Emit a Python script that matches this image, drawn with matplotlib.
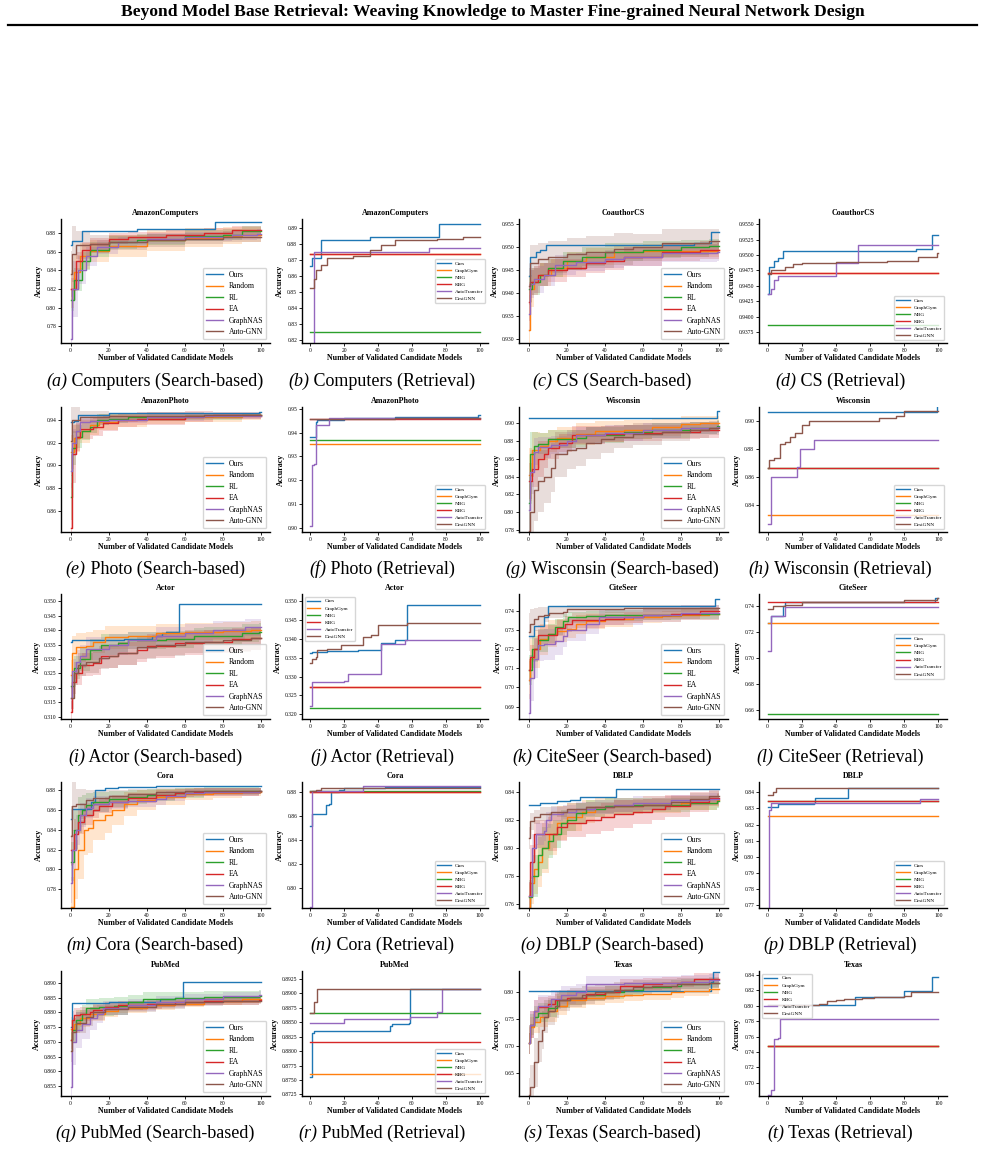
import matplotlib
matplotlib.use('Agg')
import matplotlib.pyplot as plt
from matplotlib.ticker import MultipleLocator
from matplotlib.lines import Line2D

plt.rcParams['font.family'] = 'Liberation Serif'
plt.rcParams['axes.formatter.useoffset'] = False

N = 100
COLORS = ['#1f77b4', '#ff7f0e', '#2ca02c', '#d62728', '#9467bd', '#8c564b']
SEARCH_NAMES = ['Ours', 'Random', 'RL', 'EA', 'GraphNAS', 'Auto-GNN']
RETR_NAMES = ['Ours', 'GraphGym', 'NBG', 'KBG', 'AutoTransfer', 'DesiGNN']

# search-based series: (candidate idx, mean acc, band half width)
# retrieval series: (candidate idx, acc)

# (a) / (b) AmazonComputers
comp_s_ours = [(0,.867,0),(1,.871,0),(6,.8825,0),(35,.884,0),(76,.892,0)]
comp_s_rand = [(0,.820,.02),(2,.838,.018),(5,.855,.014),(10,.861,.012),(20,.866,.012),(40,.872,.011),(60,.875,.01),(80,.877,.009),(90,.878,.008)]
comp_s_rl = [(0,.808,.012),(2,.830,.012),(6,.850,.01),(10,.862,.008),(20,.870,.007),(35,.873,.006),(60,.877,.006),(80,.878,.006),(90,.8825,.005)]
comp_s_ea = [(0,.820,.012),(3,.850,.01),(6,.862,.008),(10,.868,.007),(20,.874,.006),(30,.876,.005),(50,.878,.005),(70,.880,.005),(85,.883,.005)]
comp_s_gnas = [(0,.766,.03),(1,.820,.03),(4,.840,.015),(8,.855,.01),(14,.865,.008),(25,.870,.006),(40,.874,.006),(60,.876,.005),(85,.878,.005),(98,.879,.005)]
comp_s_agnn = [(0,.836,.025),(1,.857,.03),(3,.867,.015),(10,.868,.01),(20,.870,.008),(40,.872,.007),(60,.874,.006),(80,.876,.006)]
comp_r_ours = [(0,.8665),(1,.871),(6,.8825),(35,.884),(76,.892)]
comp_r_gg = [(0,.8737)]
comp_r_nbg = [(0,.8255)]
comp_r_kbg = [(0,.8737)]
comp_r_at = [(0,.8165),(2,.875),(70,.8772)]
comp_r_desi = [(0,.8525),(2,.858),(3,.864),(6,.867),(10,.871),(25,.8725),(35,.876),(42,.879),(50,.8825),(75,.8828),(90,.884)]

# (c) / (d) CoauthorCS
cs_s_ours = [(0,.9437,0),(1,.948,0),(4,.949,0),(6,.9495,0),(9,.9506,0),(87,.951,0),(96,.9533,0)]
cs_s_rand = [(0,.932,.006),(1,.941,.004),(3,.943,.003),(6,.944,.0025),(12,.9455,.002),(20,.947,.002),(30,.948,.0018),(45,.949,.0016),(60,.9493,.0015),(99,.9495,.0015)]
cs_s_rl = [(0,.941,.003),(2,.9425,.003),(6,.944,.0025),(10,.9455,.002),(18,.947,.002),(28,.948,.002),(40,.949,.002),(60,.9495,.0018),(80,.950,.0017),(95,.9502,.0017)]
cs_s_ea = [(0,.938,.004),(1,.9425,.003),(5,.944,.0025),(10,.945,.0025),(20,.9455,.002),(30,.9465,.002),(40,.947,.002),(50,.948,.002),(70,.949,.002),(90,.9495,.002)]
cs_s_gnas = [(0,.9355,.004),(1,.942,.003),(3,.943,.003),(8,.944,.0025),(14,.9462,.0022),(25,.9468,.002),(40,.9475,.002),(50,.948,.002),(70,.9488,.002),(99,.949,.002)]
cs_s_agnn = [(0,.9415,.004),(1,.9465,.004),(5,.9475,.0035),(10,.948,.0035),(20,.9485,.0035),(30,.949,.0035),(45,.9497,.0035),(55,.950,.003),(70,.951,.003),(95,.9515,.0025)]
cs_r_ours = [(0,.9437),(1,.948),(4,.949),(6,.9495),(9,.9506),(87,.951),(96,.9533)]
cs_r_gg = [(0,.9471)]
cs_r_nbg = [(0,.93865)]
cs_r_kbg = [(0,.9471)]
cs_r_at = [(0,.9437),(2,.9445),(4,.946),(6,.9466),(40,.9487),(53,.9516)]
cs_r_desi = [(0,.9470),(2,.9475),(10,.948),(15,.9485),(20,.9487),(40,.9488),(70,.949),(88,.9497),(99,.9503)]

# (e) / (f) AmazonPhoto
photo_s_ours = [(0,.938,0),(2,.9385,0),(4,.9445,0),(20,.9455,0),(99,.947,0)]
photo_s_rand = [(0,.912,.015),(2,.924,.012),(5,.930,.01),(10,.935,.008),(15,.938,.007),(25,.940,.006),(40,.941,.005),(60,.942,.004),(90,.943,.003)]
photo_s_rl = [(0,.872,.02),(1,.915,.015),(3,.925,.01),(6,.930,.008),(10,.934,.006),(14,.940,.005),(20,.941,.004),(30,.942,.003),(60,.943,.003),(90,.944,.002)]
photo_s_ea = [(0,.845,.04),(1,.910,.025),(3,.925,.012),(5,.932,.009),(12,.934,.008),(17,.937,.007),(25,.940,.006),(35,.941,.006),(60,.943,.005),(75,.944,.003)]
photo_s_gnas = [(0,.895,.015),(1,.920,.012),(3,.930,.008),(5,.938,.005),(10,.939,.004),(20,.940,.003),(40,.942,.003),(70,.943,.002)]
photo_s_agnn = [(0,.921,.03),(1,.940,.012),(5,.9425,.005),(20,.943,.003),(40,.9435,.003),(70,.944,.002),(99,.9445,.002)]
photo_r_ours = [(0,.9383),(3,.9445),(4,.9452),(20,.946),(50,.9465),(99,.9475)]
photo_r_gg = [(0,.9353)]
photo_r_nbg = [(0,.9370)]
photo_r_kbg = [(0,.9455)]
photo_r_at = [(0,.901),(1,.9265),(2,.927),(3,.943),(10,.943),(11,.946),(40,.9462)]
photo_r_desi = [(0,.9455),(5,.9458),(50,.946)]

# (g) / (h) Wisconsin
wisc_s_ours = [(0,.9065,0),(99,.9135,0)]
wisc_s_rand = [(0,.842,.03),(2,.870,.02),(6,.874,.015),(10,.880,.012),(15,.884,.012),(25,.888,.012),(35,.891,.012),(50,.893,.011),(65,.896,.01),(80,.899,.009),(90,.900,.008)]
wisc_s_rl = [(0,.810,.03),(1,.865,.025),(3,.875,.015),(5,.877,.012),(10,.882,.01),(25,.883,.01),(30,.887,.009),(50,.890,.008),(65,.892,.008),(85,.895,.007),(99,.897,.007)]
wisc_s_ea = [(0,.835,.02),(2,.848,.02),(5,.860,.02),(8,.865,.015),(10,.872,.012),(16,.878,.01),(23,.887,.01),(40,.888,.009),(50,.889,.009),(70,.890,.008),(90,.892,.008)]
wisc_s_gnas = [(0,.802,.03),(1,.845,.025),(3,.868,.015),(5,.873,.012),(12,.876,.01),(20,.880,.01),(25,.887,.009),(40,.889,.009),(60,.892,.008),(80,.895,.007),(99,.896,.007)]
wisc_s_agnn = [(0,.778,.03),(1,.800,.035),(3,.825,.035),(5,.835,.035),(8,.840,.03),(12,.850,.028),(14,.865,.025),(20,.870,.022),(25,.872,.02),(30,.878,.018),(38,.882,.015),(45,.885,.013),(55,.888,.012),(70,.890,.01),(85,.893,.009),(95,.895,.008)]
wisc_r_ours = [(0,.9065),(99,.9135)]
wisc_r_gg = [(0,.8333)]
wisc_r_nbg = [(0,.8667)]
wisc_r_kbg = [(0,.8667)]
wisc_r_at = [(0,.8267),(2,.860),(17,.867),(19,.880),(27,.8867)]
wisc_r_desi = [(0,.8667),(1,.872),(4,.8733),(7,.8833),(10,.885),(13,.8883),(16,.8917),(20,.8967),(24,.900),(65,.9017),(75,.9033),(80,.9067)]

# (i) / (j) Actor
actor_s_ours = [(0,.336,0),(1,.3365,0),(28,.337,0),(43,.338,0),(48,.339,0),(50,.3395,0),(57,.349,0)]
actor_s_rand = [(0,.3245,.005),(1,.332,.006),(3,.334,.005),(8,.3345,.005),(12,.336,.004),(18,.3375,.004),(30,.338,.0035),(45,.339,.003),(60,.3395,.003),(80,.3398,.003),(95,.340,.003)]
actor_s_rl = [(0,.3205,.004),(2,.327,.004),(5,.330,.004),(10,.333,.004),(16,.335,.0035),(25,.3355,.003),(30,.3365,.003),(50,.3368,.003),(65,.3378,.003),(70,.338,.003),(90,.339,.003),(99,.3395,.003)]
actor_s_ea = [(0,.3115,.004),(1,.322,.004),(3,.325,.004),(6,.328,.004),(12,.3285,.004),(16,.331,.004),(25,.332,.004),(35,.333,.004),(40,.3345,.004),(55,.3355,.004),(70,.336,.004),(85,.3368,.004),(95,.3372,.004)]
actor_s_gnas = [(0,.3165,.004),(1,.326,.004),(3,.329,.004),(5,.331,.004),(8,.3335,.004),(20,.335,.0035),(30,.3365,.003),(45,.338,.003),(60,.339,.003),(75,.340,.003),(92,.341,.003)]
actor_s_agnn = [(0,.3165,.004),(2,.325,.004),(4,.328,.004),(8,.329,.004),(15,.3305,.004),(20,.331,.004),(25,.332,.004),(35,.334,.004),(45,.335,.004),(60,.336,.004),(80,.3365,.004),(95,.3372,.004)]
actor_r_ours = [(0,.3363),(1,.3365),(10,.3367),(28,.3371),(42,.339),(50,.3398),(57,.349)]
actor_r_gg = [(0,.3272)]
actor_r_nbg = [(0,.3216)]
actor_r_kbg = [(0,.3272)]
actor_r_at = [(0,.3222),(1,.3285),(20,.3287),(22,.3307),(42,.3387),(56,.3397)]
actor_r_desi = [(0,.3337),(1,.3347),(3,.3352),(4,.337),(10,.3373),(18,.3383),(25,.3385),(31,.3405),(36,.341),(40,.3437),(50,.3438),(57,.3443)]

# (k) / (l) CiteSeer
cite_s_ours = [(0,.7267,0),(3,.732,0),(8,.7365,0),(10,.7425,0),(98,.746,0)]
cite_s_rand = [(0,.704,.01),(1,.715,.01),(3,.720,.01),(6,.725,.008),(10,.728,.007),(15,.7295,.006),(20,.7305,.005),(25,.733,.005),(30,.7345,.004),(40,.7355,.004),(55,.7365,.003),(70,.737,.003),(80,.738,.003),(95,.7383,.003)]
cite_s_rl = [(0,.709,.008),(2,.720,.007),(5,.7245,.006),(10,.728,.005),(14,.7315,.004),(18,.7345,.004),(21,.7365,.003),(30,.737,.003),(40,.7375,.003),(60,.738,.003),(80,.7385,.003)]
cite_s_ea = [(0,.709,.006),(1,.716,.006),(3,.720,.006),(5,.7275,.005),(12,.7275,.005),(15,.731,.004),(19,.733,.004),(23,.735,.004),(40,.7355,.003),(50,.7365,.003),(60,.738,.003),(75,.7385,.003),(90,.740,.002)]
cite_s_gnas = [(0,.6865,.01),(1,.705,.012),(3,.715,.01),(5,.722,.008),(8,.7225,.008),(14,.724,.007),(18,.727,.006),(20,.730,.006),(30,.733,.005),(37,.7365,.004),(60,.738,.004),(80,.739,.004)]
cite_s_agnn = [(0,.729,.01),(1,.733,.008),(3,.7355,.006),(5,.737,.005),(8,.738,.004),(11,.739,.003),(18,.7395,.003),(20,.741,.002),(50,.7412,.002)]
cite_r_ours = [(0,.7267),(2,.7325),(9,.7395),(10,.7425),(98,.7457)]
cite_r_gg = [(0,.7267)]
cite_r_nbg = [(0,.657)]
cite_r_kbg = [(0,.7425)]
cite_r_at = [(0,.7057),(2,.7325),(10,.739)]
cite_r_desi = [(0,.7377),(3,.7395),(10,.7402),(20,.7425),(60,.7432),(80,.7445),(99,.7457)]

# (m) / (n) Cora
cora_s_ours = [(0,.851,0),(1,.8615,0),(11,.868,0),(13,.880,0),(18,.882,0),(25,.883,0),(45,.8845,0)]
cora_s_rand = [(0,.762,.03),(2,.800,.03),(4,.820,.03),(7,.840,.025),(9,.842,.025),(12,.850,.02),(18,.855,.018),(22,.860,.015),(28,.866,.012),(35,.870,.01),(45,.873,.008),(60,.876,.006),(75,.877,.005),(90,.878,.004)]
cora_s_rl = [(0,.808,.02),(2,.840,.02),(4,.855,.018),(6,.860,.015),(8,.865,.012),(12,.868,.01),(20,.871,.008),(30,.873,.007),(40,.875,.006),(55,.877,.005),(70,.879,.004),(99,.8795,.003)]
cora_s_ea = [(0,.820,.015),(2,.836,.015),(4,.848,.012),(7,.855,.01),(12,.860,.008),(15,.864,.007),(22,.868,.006),(30,.872,.005),(45,.875,.005),(55,.877,.004),(65,.878,.004),(99,.879,.003)]
cora_s_gnas = [(0,.786,.02),(1,.820,.02),(3,.840,.015),(5,.855,.012),(8,.862,.01),(12,.866,.008),(20,.868,.007),(30,.869,.006),(45,.871,.006),(50,.874,.005),(60,.877,.004),(70,.878,.004),(99,.8795,.003)]
cora_s_agnn = [(0,.834,.03),(1,.864,.025),(3,.866,.015),(8,.870,.01),(12,.872,.008),(20,.874,.006),(30,.876,.005),(45,.878,.004),(60,.879,.003),(99,.8795,.003)]
cora_r_ours = [(0,.8515),(1,.8615),(9,.869),(11,.870),(12,.880),(17,.882),(20,.883),(30,.8835),(44,.8845)]
cora_r_gg = [(0,.8797)]
cora_r_nbg = [(0,.8805)]
cora_r_kbg = [(0,.8797)]
cora_r_at = [(0,.7845),(1,.8805),(31,.8852)]
cora_r_desi = [(0,.8805),(3,.882),(6,.8832),(10,.8835)]

# (o) / (p) DBLP
dblp_s_ours = [(0,.831,0),(6,.8325,0),(15,.8335,0),(22,.834,0),(27,.8365,0),(46,.8425,0)]
dblp_s_rand = [(0,.757,.01),(1,.775,.015),(3,.785,.018),(5,.790,.018),(7,.800,.018),(11,.810,.015),(15,.818,.012),(20,.822,.01),(28,.826,.008),(35,.829,.007),(45,.830,.006),(60,.831,.006),(80,.832,.005),(99,.834,.005)]
dblp_s_rl = [(0,.765,.012),(2,.780,.015),(5,.795,.015),(7,.800,.015),(10,.805,.012),(13,.810,.01),(17,.818,.009),(20,.820,.008),(25,.825,.007),(30,.828,.006),(40,.830,.006),(55,.831,.005),(85,.832,.005),(99,.8335,.005)]
dblp_s_ea = [(0,.766,.01),(1,.790,.012),(3,.810,.01),(10,.810,.012),(15,.815,.01),(20,.818,.01),(30,.820,.01),(38,.822,.01),(45,.824,.01),(55,.826,.009),(65,.828,.008),(72,.830,.008),(85,.833,.007),(95,.836,.006)]
dblp_s_gnas = [(0,.766,.01),(2,.800,.01),(4,.810,.008),(8,.812,.007),(9,.820,.006),(12,.824,.005),(18,.826,.005),(25,.828,.005),(35,.829,.005),(45,.831,.005),(55,.832,.005),(75,.834,.004),(95,.835,.004)]
dblp_s_agnn = [(0,.807,.008),(1,.819,.006),(3,.822,.005),(6,.824,.005),(12,.826,.004),(20,.828,.004),(30,.829,.004),(45,.830,.004),(60,.831,.004),(75,.833,.004),(85,.835,.004),(95,.837,.004)]
dblp_r_ours = [(0,.8308),(5,.8312),(6,.8325),(16,.833),(27,.8335),(28,.8367),(47,.8428)]
dblp_r_gg = [(0,.8253)]
dblp_r_nbg = [(0,.8345)]
dblp_r_kbg = [(0,.8345)]
dblp_r_at = [(0,.7645),(1,.829),(2,.8332),(89,.8357)]
dblp_r_desi = [(0,.8385),(3,.8405),(5,.8428)]

# (q) / (r) PubMed
pub_s_ours = [(0,.8752,0),(1,.8832,0),(20,.8835,0),(35,.8837,0),(47,.8845,0),(55,.8848,0),(59,.8905,0)]
pub_s_rand = [(0,.8745,.004),(2,.876,.003),(5,.878,.003),(10,.8795,.0025),(18,.8805,.002),(25,.8815,.0018),(40,.8825,.0015),(55,.883,.0013),(70,.8838,.0012),(90,.8845,.0012)]
pub_s_rl = [(0,.8705,.004),(1,.874,.004),(3,.8775,.0035),(6,.8795,.003),(8,.8815,.003),(15,.8818,.003),(23,.8822,.003),(30,.8835,.0025),(38,.8845,.0025),(55,.8848,.0022),(70,.8852,.002),(99,.8856,.002)]
pub_s_ea = [(0,.8705,.003),(1,.8775,.003),(2,.879,.0025),(5,.8795,.0025),(10,.880,.002),(12,.881,.002),(18,.8818,.0018),(25,.8825,.0015),(40,.8828,.0015),(48,.883,.0013),(55,.8835,.0012),(70,.8838,.0012),(99,.8842,.001)]
pub_s_gnas = [(0,.8545,.012),(1,.870,.008),(3,.874,.006),(6,.876,.005),(10,.878,.004),(14,.8795,.003),(17,.8815,.0025),(30,.8825,.002),(45,.8835,.002),(60,.8845,.0018),(80,.8855,.0015),(99,.8858,.0015)]
pub_s_agnn = [(0,.867,.004),(1,.8735,.004),(3,.8765,.0035),(8,.8785,.003),(12,.880,.0025),(18,.8812,.002),(30,.882,.0018),(45,.8828,.0015),(60,.8835,.0013),(80,.8838,.0012),(99,.884,.0012)]
pub_r_ours = [(0,.8755),(1,.8832),(2,.8835),(47,.8843),(48,.8847),(58,.8848),(59,.8908)]
pub_r_gg = [(0,.8761)]
pub_r_nbg = [(0,.8866)]
pub_r_kbg = [(0,.8815)]
pub_r_at = [(0,.8848),(20,.8855),(59,.886),(75,.8868),(78,.8908)]
pub_r_desi = [(0,.8866),(2,.8885),(4,.8908)]

# (s) / (t) Texas
texas_s_ours = [(0,.8015,0),(51,.803,0),(96,.820,0),(97,.838,0)]
texas_s_rand = [(0,.705,.02),(1,.735,.02),(3,.745,.02),(6,.755,.02),(10,.765,.02),(15,.775,.018),(20,.785,.015),(30,.790,.014),(40,.793,.013),(50,.795,.012),(60,.797,.012),(75,.800,.011),(82,.803,.01),(95,.806,.01)]
texas_s_rl = [(0,.705,.02),(1,.740,.02),(3,.755,.02),(5,.762,.018),(10,.770,.016),(15,.785,.015),(22,.790,.013),(30,.795,.012),(40,.800,.012),(50,.805,.011),(60,.810,.01),(75,.812,.01),(80,.815,.009),(95,.817,.009)]
texas_s_ea = [(0,.705,.02),(1,.740,.025),(3,.765,.02),(5,.773,.018),(10,.778,.016),(14,.785,.015),(20,.790,.014),(30,.797,.013),(40,.800,.012),(48,.812,.012),(60,.815,.011),(70,.818,.011),(80,.820,.01),(87,.825,.01)]
texas_s_gnas = [(0,.705,.02),(1,.740,.025),(3,.765,.02),(5,.775,.02),(12,.787,.018),(17,.795,.017),(25,.800,.016),(30,.815,.015),(50,.817,.014),(80,.820,.013),(95,.822,.012)]
texas_s_agnn = [(0,.610,.03),(1,.625,.04),(3,.670,.045),(5,.710,.04),(7,.730,.035),(8,.755,.03),(10,.765,.025),(14,.775,.022),(16,.785,.02),(22,.790,.018),(28,.795,.016),(35,.800,.015),(45,.805,.014),(55,.810,.013),(65,.812,.012),(78,.815,.011),(95,.818,.01)]
texas_r_ours = [(0,.8015),(51,.811),(80,.8195),(96,.8375)]
texas_r_gg = [(0,.7475)]
texas_r_nbg = [(0,.7475)]
texas_r_kbg = [(0,.7475)]
texas_r_at = [(0,.6845),(2,.690),(4,.7565),(6,.7575),(7,.7835)]
texas_r_desi = [(0,.8015),(30,.803),(35,.806),(40,.807),(45,.8085),(55,.810),(62,.811),(72,.812),(80,.813),(84,.8175)]

# title, caption letter, caption text, kind, series, ylim, tick step, legend loc
panels = [
    ('AmazonComputers', 'a', 'Computers (Search-based)', 's',
     [comp_s_ours, comp_s_rand, comp_s_rl, comp_s_ea, comp_s_gnas, comp_s_agnn], (0.762, 0.895), 0.02, 'lower right'),
    ('AmazonComputers', 'b', 'Computers (Retrieval)', 'r',
     [comp_r_ours, comp_r_gg, comp_r_nbg, comp_r_kbg, comp_r_at, comp_r_desi], (0.8184, 0.8954), 0.01, 'center right'),
    ('CoauthorCS', 'c', 'CS (Search-based)', 's',
     [cs_s_ours, cs_s_rand, cs_s_rl, cs_s_ea, cs_s_gnas, cs_s_agnn], (0.9291, 0.9562), 0.005, 'lower right'),
    ('CoauthorCS', 'd', 'CS (Retrieval)', 'r',
     [cs_r_ours, cs_r_gg, cs_r_nbg, cs_r_kbg, cs_r_at, cs_r_desi], (0.93575, 0.95583), 0.0025, 'lower right'),
    ('AmazonPhoto', 'e', 'Photo (Search-based)', 's',
     [photo_s_ours, photo_s_rand, photo_s_rl, photo_s_ea, photo_s_gnas, photo_s_agnn], (0.8418, 0.9511), 0.02, 'lower right'),
    ('AmazonPhoto', 'f', 'Photo (Retrieval)', 'r',
     [photo_r_ours, photo_r_gg, photo_r_nbg, photo_r_kbg, photo_r_at, photo_r_desi], (0.8984, 0.9507), 0.01, 'lower right'),
    ('Wisconsin', 'g', 'Wisconsin (Search-based)', 's',
     [wisc_s_ours, wisc_s_rand, wisc_s_rl, wisc_s_ea, wisc_s_gnas, wisc_s_agnn], (0.7774, 0.9185), 0.02, 'lower right'),
    ('Wisconsin', 'h', 'Wisconsin (Retrieval)', 'r',
     [wisc_r_ours, wisc_r_gg, wisc_r_nbg, wisc_r_kbg, wisc_r_at, wisc_r_desi], (0.8212, 0.9098), 0.02, 'lower right'),
    ('Actor', 'i', 'Actor (Search-based)', 's',
     [actor_s_ours, actor_s_rand, actor_s_rl, actor_s_ea, actor_s_gnas, actor_s_agnn], (0.3092, 0.3525), 0.005, 'lower right'),
    ('Actor', 'j', 'Actor (Retrieval)', 'r',
     [actor_r_ours, actor_r_gg, actor_r_nbg, actor_r_kbg, actor_r_at, actor_r_desi], (0.31875, 0.3519), 0.005, 'upper left'),
    ('CiteSeer', 'k', 'CiteSeer (Search-based)', 's',
     [cite_s_ours, cite_s_rand, cite_s_rl, cite_s_ea, cite_s_gnas, cite_s_agnn], (0.6835, 0.7487), 0.01, 'lower right'),
    ('CiteSeer', 'l', 'CiteSeer (Retrieval)', 'r',
     [cite_r_ours, cite_r_gg, cite_r_nbg, cite_r_kbg, cite_r_at, cite_r_desi], (0.6533, 0.7490), 0.02, 'center right'),
    ('Cora', 'm', 'Cora (Search-based)', 's',
     [cora_s_ours, cora_s_rand, cora_s_rl, cora_s_ea, cora_s_gnas, cora_s_agnn], (0.761, 0.8885), 0.02, 'lower right'),
    ('Cora', 'n', 'Cora (Retrieval)', 'r',
     [cora_r_ours, cora_r_gg, cora_r_nbg, cora_r_kbg, cora_r_at, cora_r_desi], (0.7833, 0.8884), 0.02, 'lower right'),
    ('DBLP', 'o', 'DBLP (Search-based)', 's',
     [dblp_s_ours, dblp_s_rand, dblp_s_rl, dblp_s_ea, dblp_s_gnas, dblp_s_agnn], (0.7571, 0.8472), 0.02, 'lower right'),
    ('DBLP', 'p', 'DBLP (Retrieval)', 'r',
     [dblp_r_ours, dblp_r_gg, dblp_r_nbg, dblp_r_kbg, dblp_r_at, dblp_r_desi], (0.768, 0.8465), 0.01, 'lower right'),
    ('PubMed', 'q', 'PubMed (Search-based)', 's',
     [pub_s_ours, pub_s_rand, pub_s_rl, pub_s_ea, pub_s_gnas, pub_s_agnn], (0.8516, 0.8941), 0.005, 'lower right'),
    ('PubMed', 'r', 'PubMed (Retrieval)', 'r',
     [pub_r_ours, pub_r_gg, pub_r_nbg, pub_r_kbg, pub_r_at, pub_r_desi], (0.87221, 0.8939), 0.0025, 'lower right'),
    ('Texas', 's', 'Texas (Search-based)', 's',
     [texas_s_ours, texas_s_rand, texas_s_rl, texas_s_ea, texas_s_gnas, texas_s_agnn], (0.6074, 0.8395), 0.05, 'lower right'),
    ('Texas', 't', 'Texas (Retrieval)', 'r',
     [texas_r_ours, texas_r_gg, texas_r_nbg, texas_r_kbg, texas_r_at, texas_r_desi], (0.6827, 0.8453), 0.02, 'upper left'),
]

W, H = 985, 1149
cols = [(61, 270), (302, 488), (519, 728), (759, 947)]
rows = [(219, 343), (407, 532), (594, 719), (782, 908), (971, 1096)]
cap_x = [155, 382, 612, 840]
cap_y = [381, 569, 757, 945, 1133]

fig = plt.figure(figsize=(W / 100, H / 100), dpi=100)
fig.text(0.5, 1 - 12 / H, 'Beyond Model Base Retrieval: Weaving Knowledge to Master Fine-grained Neural Network Design',
         ha='center', va='center', fontsize=12.6, fontweight='bold')
fig.add_artist(Line2D([8 / W, 977 / W], [1 - 25 / H] * 2, color='black', lw=1.6))
renderer = fig.canvas.get_renderer()


def stepline(pts):
    xs = [p[0] for p in pts] + [N]
    ys = [p[1] for p in pts] + [pts[-1][1]]
    return xs, ys


def caption(cx, cy, letter, text):
    # italic "(x)" followed by upright text, centred as one line
    t1 = fig.text(0, 1 - cy / H, '(%s)' % letter, style='italic', fontsize=13, va='center')
    t2 = fig.text(0, 1 - cy / H, ' ' + text, fontsize=13, va='center')
    w1 = t1.get_window_extent(renderer).width
    w2 = t2.get_window_extent(renderer).width
    left = cx - (w1 + w2) / 2
    t1.set_x(left / W)
    t2.set_x((left + w1) / W)


for k, (title, letter, cap, kind, series, ylim, step, loc) in enumerate(panels):
    r, c = divmod(k, 4)
    l, rr = cols[c]
    t, b = rows[r]
    ax = fig.add_axes([l / W, 1 - b / H, (rr - l) / W, (b - t) / H])
    names = SEARCH_NAMES if kind == 's' else RETR_NAMES
    for pts, name, col in zip(series, names, COLORS):
        xs, ys = stepline(pts)
        ax.plot(xs, ys, drawstyle='steps-post', color=col, lw=1.0, label=name)
        if kind == 's' and any(p[2] > 0 for p in pts):
            hw = [p[2] for p in pts] + [pts[-1][2]]
            lo = [y - h for y, h in zip(ys, hw)]
            hi = [y + h for y, h in zip(ys, hw)]
            ax.fill_between(xs, lo, hi, step='post', color=col, alpha=0.2, lw=0)
    ax.set_xlim(-5, 105)
    ax.set_ylim(*ylim)
    ax.xaxis.set_major_locator(MultipleLocator(20))
    ax.yaxis.set_major_locator(MultipleLocator(step))
    for s in ['top', 'right']:
        ax.spines[s].set_visible(False)
    for s in ['left', 'bottom']:
        ax.spines[s].set_linewidth(1.0)
    ax.tick_params(labelsize=4, length=2, width=0.6, pad=1.5)
    ax.set_title(title, fontsize=5.8, fontweight='bold', pad=3)
    ax.set_xlabel('Number of Validated Candidate Models', fontsize=5.7, fontweight='bold', labelpad=1)
    ax.set_ylabel('Accuracy', fontsize=5.7, fontweight='bold', labelpad=2)
    if kind == 's':
        ax.legend(loc=loc, fontsize=5.5, handlelength=2.2, labelspacing=0.45, borderpad=0.4)
    else:
        ax.legend(loc=loc, fontsize=3.8, handlelength=2.6, labelspacing=0.45, borderpad=0.4)
    caption(cap_x[c], cap_y[r], letter, cap)

fig.savefig('out.png', dpi=100)
